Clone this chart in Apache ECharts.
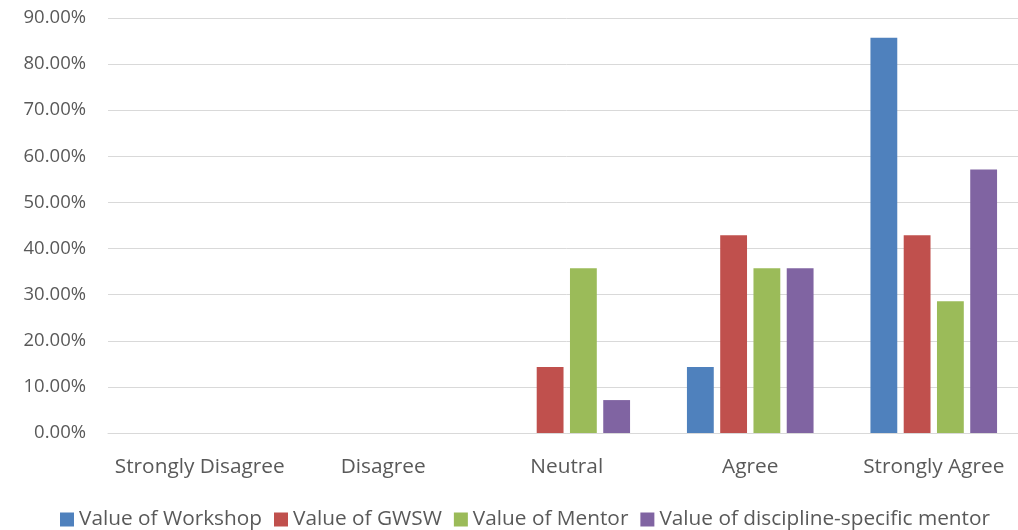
<!DOCTYPE html>
<html><head><meta charset="utf-8">
<script src="https://cdn.jsdelivr.net/npm/echarts@6/dist/echarts.min.js"></script>
<style>html,body{margin:0;padding:0;background:#fff;overflow:hidden}#c{width:1028px;height:530px}</style>
</head><body><div id="c"></div>
<script>
const categories = ['Strongly Disagree', 'Disagree', 'Neutral', 'Agree', 'Strongly Agree'];
const seriesNames = ['Value of Workshop', 'Value of GWSW', 'Value of Mentor', 'Value of discipline-specific mentor'];
const workshop = [0, 0, 0, 14.29, 85.71];
const gwsw = [0, 0, 14.29, 42.86, 42.86];
const mentor = [0, 0, 35.71, 35.71, 28.57];
const discipline = [0, 0, 7.14, 35.71, 57.14];
const colors = ['#4F81BD', '#C0504D', '#9BBB59', '#8064A2'];
const font = '"Open Sans", sans-serif';
const data = [workshop, gwsw, mentor, discipline];
const chart = echarts.init(document.getElementById('c'));
chart.setOption({
  animation: false,
  textStyle: { fontFamily: font },
  grid: { left: 108, top: 18, width: 917.5, bottom: 97, containLabel: false },
  legend: {
    top: 509, left: 60, padding: 0, itemWidth: 14, itemHeight: 14, itemGap: 12,
    icon: 'rect',
    textStyle: { color: '#595959', fontSize: 20.8, fontFamily: font, padding: [2, 0, 0, 0] }
  },
  xAxis: {
    type: 'category', data: categories,
    axisLine: { lineStyle: { color: '#D9D9D9', width: 1 } },
    axisTick: { show: false },
    axisLabel: { color: '#595959', fontSize: 20.8, margin: 24, interval: 0 }
  },
  yAxis: {
    type: 'value', min: 0, max: 90, interval: 10,
    axisLine: { show: false }, axisTick: { show: false },
    splitLine: { lineStyle: { color: '#D9D9D9', width: 1 } },
    axisLabel: { color: '#595959', fontSize: 18.5, margin: 22, formatter: v => v.toFixed(2) + '%' }
  },
  series: seriesNames.map((n, i) => ({
    name: n, type: 'bar', data: data[i],
    itemStyle: { color: colors[i] },
    barGap: '24%', barCategoryGap: '31%'
  }))
});
</script></body></html>
